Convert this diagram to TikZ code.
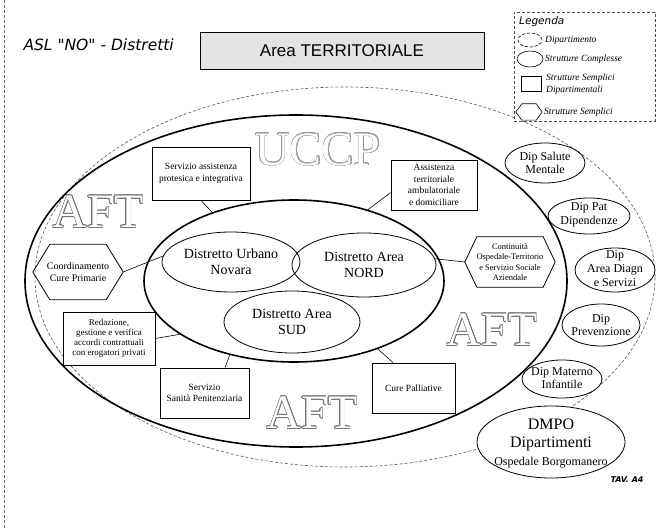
\documentclass[tikz,border=0pt]{standalone}
\usepackage{fontspec}
\setmainfont{Liberation Serif}
\newfontfamily\headsans{Liberation Sans}
\newfontfamily\handsans{DejaVu Sans}
\usepackage{contour}
\contourlength{0.6pt}
\usetikzlibrary{shapes.geometric}
\newcommand{\setfs}[2]{\fontsize{#1}{#2}\selectfont}

\tikzset{
  thickring/.style={draw, line width=1.6pt},
  outerdash/.style={draw=black!65, line width=0.6pt, dash pattern=on 3pt off 2pt},
  distr/.style={ellipse, draw, line width=0.8pt, inner sep=0pt, align=center, font=\setfs{14}{16}},
  dipshape/.style={ellipse, draw, fill=white, line width=0.8pt, inner sep=0pt},
  diptext/.style={align=center, inner sep=0pt, font=\setfs{12}{13.5}},
  sbox/.style={draw, fill=white, line width=0.8pt, align=center, inner sep=0pt, font=\setfs{9.5}{11.5}},
  hexbox/.style={align=center, inner sep=0pt, font=\setfs{10}{12}},
  hexline/.style={draw, line width=0.8pt},
  link/.style={draw, line width=0.6pt},
  bigword/.style={font=\setfs{48}{48}, inner sep=0pt},
  legtext/.style={anchor=west, inner sep=0pt, font=\itshape\setfs{9.5}{11}},
}

\begin{document}
\begin{tikzpicture}[x=1pt, y=-1pt]
\useasboundingbox (0,0) rectangle (658,529);
\fill[white] (0,0) rectangle (658,529);

% margin rule
\draw[black!60, line width=0.6pt, densely dashed] (4,0) -- (4,529);

% heading
\node[anchor=west, font=\handsans\itshape\setfs{15.5}{17}] (ttl) at (20,45) {ASL "NO" - Distretti};
\node[draw, line width=0.9pt, fill=gray!22, minimum width=284, minimum height=37, inner sep=0pt,
      font=\headsans\setfs{17}{20}] (area) at (342,51) {Area TERRITORIALE};

% outer dashed region
\node[ellipse, outerdash, minimum width=620, minimum height=380, inner sep=0pt] (asl) at (345,277) {};

% departments on the right
\node[dipshape, minimum width=80, minimum height=40] (dsm) at (545,163) {};
\node[diptext] (dsm-t) at (545,163) {Dip Salute\\Mentale};
\node[dipshape, minimum width=82, minimum height=36] (dpd) at (589,216) {};
\node[diptext] (dpd-t) at (589,215) {Dip Pat\\Dipendenze};
\node[dipshape, minimum width=80, minimum height=44] (dad) at (615,270) {};
\node[diptext, font=\setfs{12}{14}] (dad-t) at (615,269) {Dip\\Area Diagn\\e Servizi};
\node[dipshape, minimum width=78, minimum height=42] (dpv) at (601,325) {};
\node[diptext] (dpv-t) at (601,325) {Dip\\Prevenzione};
\node[dipshape, minimum width=80, minimum height=38] (dmi) at (562,379) {};
\node[diptext] (dmi-t) at (562,378) {Dip Materno\\Infantile};
\node[dipshape, minimum width=148, minimum height=72] (dmpo) at (551,442) {};
\node[diptext, font=\setfs{16}{18}] (dmpo-t) at (551,443) {DMPO\\Dipartimenti\\{\setfs{12}{14}Ospedale Borgomanero}};

% territorial area and districts ring
\node[ellipse, thickring, minimum width=542, minimum height=332, inner sep=0pt] (terr) at (296,281) {};
\node[ellipse, thickring, minimum width=300, minimum height=162, inner sep=0pt] (distr) at (294,281) {};

% outlined area labels
\node[bigword] (uccp) at (318,150) {\contour{black!40}{\textcolor{white}{UCCP}}};
\node[bigword] (aft1) at (98,212) {\contour{black!55}{\textcolor{white}{AFT}}};
\node[bigword] (aft2) at (492,330) {\contour{black!55}{\textcolor{white}{AFT}}};
\node[bigword] (aft3) at (312,413) {\contour{black!55}{\textcolor{white}{AFT}}};

% districts
\node[distr, minimum width=138, minimum height=60] (urb) at (231,262) {Distretto Urbano\\Novara};
\node[distr, minimum width=144, minimum height=64] (nord) at (364,265) {Distretto Area\\NORD};
\node[distr, minimum width=136, minimum height=62] (sud) at (292,322) {Distretto Area\\SUD};

% services
\node[sbox, minimum width=98, minimum height=53] (sapi) at (201,173.5) {Servizio assistenza\\protesica e integrativa};
\node[sbox, minimum width=86, minimum height=50] (asst) at (434,185) {Assistenza\\territoriale\\ambulatoriale\\e domiciliare};
\node[sbox, minimum width=92, minimum height=53, font=\setfs{9}{9.8}] (redaz) at (109,338.5)
     {Redazione,\\gestione e verifica\\accordi contrattuali\\con erogatori privati};
\node[sbox, minimum width=89, minimum height=50] (sanp) at (204.5,393) {Servizio\\Sanità Penitenziaria};
\node[sbox, minimum width=83, minimum height=50] (cpal) at (413.5,388) {Cure Palliative};

% simple structures (hexagons)
\node[hexbox, minimum width=90, minimum height=55] (coord) at (78,272) {Coordinamento\\Cure Primarie};
\draw[hexline] (coord.west) -- ([xshift=17pt]coord.north west) -- ([xshift=-17pt]coord.north east)
   -- (coord.east) -- ([xshift=-17pt]coord.south east) -- ([xshift=17pt]coord.south west) -- cycle;
\node[hexbox, minimum width=90, minimum height=50, font=\setfs{8.5}{10.5}] (cont) at (510,262)
     {Continuità\\Ospedale-Territorio\\e Servizio Sociale\\Aziendale};
\draw[hexline] (cont.west) -- ([xshift=12pt]cont.north west) -- ([xshift=-12pt]cont.north east)
   -- (cont.east) -- ([xshift=-12pt]cont.south east) -- ([xshift=12pt]cont.south west) -- cycle;

% connectors
\draw[link] (sapi.south) -- (distr.140);
\draw[link] (asst.190) -- (distr.44);
\draw[link] (coord.east) -- (urb.175);
\draw[link] (redaz.east) -- (distr.205);
\draw[link] (sanp.51) -- (distr.229);
\draw[link] (nord.5) -- (cont.west);
\draw[link] (cpal.129) -- (distr.321);

% legend
\node[draw=black!70, densely dashed, fill=white, line width=0.6pt, minimum width=141, minimum height=109, inner sep=0pt] (leg) at (584.5,66.5) {};
\node[anchor=west, inner sep=0pt, font=\handsans\itshape\setfs{10.5}{12}] (leg-t) at (519,22) {Legenda};
\node[ellipse, draw, densely dashed, line width=0.6pt, minimum width=24, minimum height=14, inner sep=0pt] (lg1) at (530,40) {};
\node[legtext] (lg1-t) at (545,40) {Dipartimento};
\node[ellipse, draw, line width=0.6pt, minimum width=26, minimum height=16, inner sep=0pt] (lg2) at (530,59) {};
\node[legtext] (lg2-t) at (545,59) {Strutture Complesse};
\node[draw, line width=0.6pt, minimum width=20, minimum height=15, inner sep=0pt] (lg3) at (531,84) {};
\node[legtext] (lg3-t) at (546,78) {Strutture Semplici};
\node[legtext] (lg3-u) at (546,90) {Dipartimentali};
\node[minimum width=26, minimum height=16, inner sep=0pt] (lg4) at (529,112) {};
\draw[line width=0.6pt] (lg4.west) -- ([xshift=6pt]lg4.north west) -- ([xshift=-6pt]lg4.north east)
   -- (lg4.east) -- ([xshift=-6pt]lg4.south east) -- ([xshift=6pt]lg4.south west) -- cycle;
\node[legtext] (lg4-t) at (544,112) {Strutture Semplici};

% sheet mark
\node[font=\handsans\bfseries\itshape\setfs{8}{9}] (tav) at (627,480) {TAV. A4};
\end{tikzpicture}
\end{document}
